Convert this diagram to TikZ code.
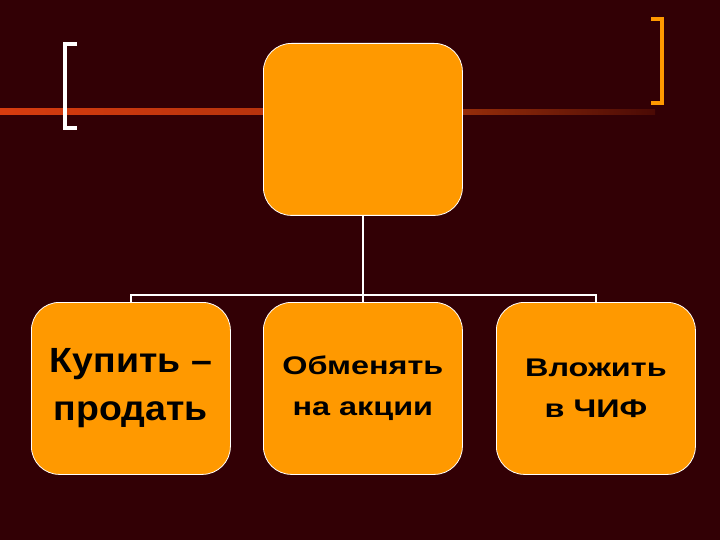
\documentclass[tikz,border=0pt]{standalone}
\usepackage{fontspec}
\setmainfont{Liberation Sans}
\newfontfamily\widefont[FakeStretch=1.27]{Liberation Sans}
\newfontfamily\midfont[FakeStretch=1.07]{Liberation Sans}
\definecolor{bgc}{RGB}{50,0,5}
\definecolor{boxc}{RGB}{255,153,0}
\definecolor{linel}{RGB}{215,60,15}
\definecolor{linem}{RGB}{150,45,10}
\definecolor{liner}{RGB}{75,10,5}
\tikzset{
  card/.style={draw=white, line width=0.8pt, fill=boxc, rounded corners=28pt,
    minimum width=199pt, minimum height=172pt, inner sep=0pt, anchor=north west,
    font=\widefont\bfseries\fontsize{25.5}{41}\selectfont, align=center, text=black},
  bigtext/.style={font=\midfont\bfseries\fontsize{35}{48}\selectfont},
  conn/.style={draw=white, line width=2pt}
}
\begin{document}
\begin{tikzpicture}[x=1pt,y=-1pt]
\fill[bgc] (0,0) rectangle (720,540);
\useasboundingbox (0,0) rectangle (720,540);
% decorative line
\shade[left color=linel, right color=linel!85!black] (0,109) rectangle (265,115);
\shade[left color=linem, right color=liner] (462,109.5) rectangle (655,114.5);
% brackets
\draw[white, line width=4pt] (77,44) -- (65,44) -- (65,128) -- (77,128);
\draw[boxc, line width=4pt] (651,19) -- (662,19) -- (662,103) -- (651,103);
% boxes
\node[card] (top) at (263,43) {};
\node[card, bigtext] (a) at (31,302) {Купить –\\продать};
\node[card] (b) at (263,302) {Обменять\\на акции};
\node[card] (c) at (496,302) {Вложить\\в ЧИФ};
\coordinate (j) at (362.5,295);
\draw[conn] (top.south) -- (b.north);
\draw[conn] (a.north) -- (a.north |- j) -- (c.north |- j) -- (c.north);
\end{tikzpicture}
\end{document}
